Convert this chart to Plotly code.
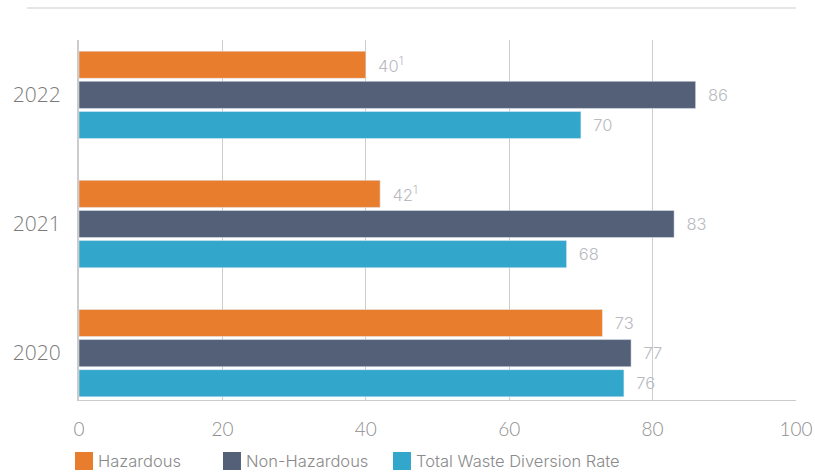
import plotly.graph_objects as go

years = ["2020", "2021", "2022"]
hazardous = [73, 42, 40]
non_hazardous = [77, 83, 86]
total_diversion = [76, 68, 70]
hazardous_labels = ["73", "42<sup>1</sup>", "40<sup>1</sup>"]
x_ticks = [0, 20, 40, 60, 80, 100]
series_names = ["Hazardous", "Non-Hazardous", "Total Waste Diversion Rate"]
series_colors = ["#E97D2E", "#536078", "#33A6CB"]

ypos = list(range(len(years)))
PAD = "\u00a0\u00a0"
label_font = dict(family="Inter", size=16.5, color="#b9bac2", weight=300)

fig = go.Figure()
fig.add_trace(go.Bar(y=ypos, x=total_diversion, orientation="h", name=series_names[2],
                     marker_color=series_colors[2], text=[PAD + str(v) for v in total_diversion],
                     textposition="outside", textfont=label_font, cliponaxis=False))
fig.add_trace(go.Bar(y=ypos, x=non_hazardous, orientation="h", name=series_names[1],
                     marker_color=series_colors[1], text=[PAD + str(v) for v in non_hazardous],
                     textposition="outside", textfont=label_font, cliponaxis=False))
fig.add_trace(go.Bar(y=ypos, x=hazardous, orientation="h", name=series_names[0],
                     marker_color=series_colors[0], text=[PAD + t for t in hazardous_labels],
                     textposition="outside", textfont=label_font, cliponaxis=False))

fig.update_layout(
    width=815, height=473,
    margin=dict(l=79, r=19, t=40, b=73, autoexpand=False),
    paper_bgcolor="white", plot_bgcolor="white",
    barmode="group", bargap=0.30, bargroupgap=0.1,
    font=dict(family="Inter", color="#8a8a8a", weight=300),
    showlegend=False,
)
fig.update_xaxes(range=[0, 100], tickvals=x_ticks, showgrid=True, gridcolor="#cccccc", gridwidth=1,
                 zeroline=False, showline=True, linecolor="#cccccc", linewidth=1, mirror=False,
                 tickfont=dict(size=19, color="#8f8f8f", family="Lato", weight=300),
                 ticks="", ticklabelstandoff=12, fixedrange=True)
fig.update_yaxes(range=[-0.363, 2.425], tickvals=ypos, ticktext=years, showgrid=False,
                 zeroline=False, showline=True, linecolor="#cccccc", linewidth=2,
                 tickfont=dict(size=21, color="#7a7a7a", family="Open Sans", weight=300),
                 ticks="", ticklabelstandoff=12, fixedrange=True)

# top divider line
fig.add_shape(type="line", xref="paper", yref="paper", x0=-0.0725, x1=1.0, y0=1.0889, y1=1.0889,
              line=dict(color="#e6e6e6", width=2))

# legend (squares + labels)
sq_x0 = [-0.0056, 0.2008, 0.4379]
txt_x = [0.0279, 0.2343, 0.4714]
for name, color, x0, tx in zip(series_names, series_colors, sq_x0, txt_x):
    fig.add_shape(type="rect", xref="paper", yref="paper", x0=x0, x1=x0 + 0.0251,
                  y0=-0.1944, y1=-0.1444, fillcolor=color, line=dict(width=0))
    fig.add_annotation(xref="paper", yref="paper", x=tx, y=-0.1694, text=name, showarrow=False,
                       xanchor="left", yanchor="middle", xshift=-3,
                       font=dict(size=16.5, color="#8a8a8a", family="Inter", weight=300))

fig.write_html("out.html", config={"displayModeBar": False, "staticPlot": True},
               post_script="document.body.style.margin='0';document.body.style.overflow='hidden';")
